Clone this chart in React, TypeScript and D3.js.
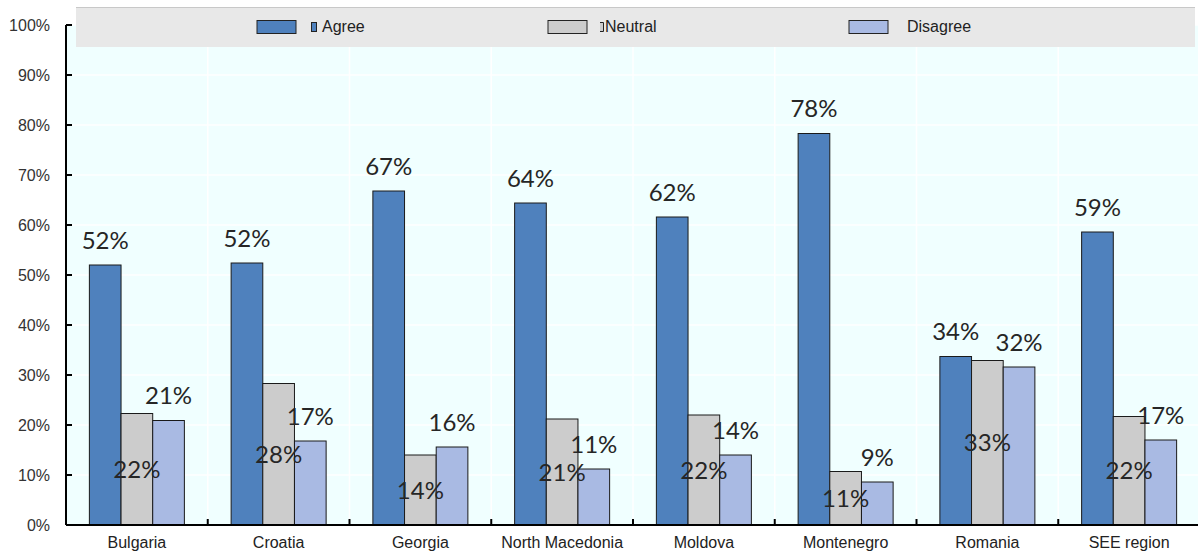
import React from "react";
import * as d3 from "d3";

const categories = ["Bulgaria", "Croatia", "Georgia", "North Macedonia", "Moldova", "Montenegro", "Romania", "SEE region"];
const seriesNames = ["Agree", "Neutral", "Disagree"];
const agree = [52.0, 52.4, 66.8, 64.4, 61.6, 78.3, 33.7, 58.6];
const neutral = [22.3, 28.3, 14.0, 21.2, 22.0, 10.7, 32.9, 21.7];
const disagree = [20.9, 16.8, 15.6, 11.2, 14.0, 8.6, 31.6, 17.0];
const yTicks = [0, 10, 20, 30, 40, 50, 60, 70, 80, 90, 100];
const colors = ["#4F81BD", "#CCCCCC", "#A9BAE3"];

const W = 1198;
const H = 557;
const left = 66;
const right = 1200;
const top = 25;
const bottom = 525;

export default function App() {
  const values = [agree, neutral, disagree];
  const x0 = d3.scaleBand<string>().domain(categories).range([left, right]).padding(0);
  const groupW = 95;
  const x1 = d3.scaleBand<string>().domain(seriesNames).range([0, groupW]).padding(0);
  const y = d3.scaleLinear().domain([0, 100]).range([bottom, top]);
  const off = (x0.step() - groupW) / 2;
  const axisFont = "'Liberation Sans', Arial, sans-serif";
  const labelFont = "Lato, 'Noto Sans', sans-serif";

  const legendItems = [
    { name: "Agree", sx: 257, tx: 322 },
    { name: "Neutral", sx: 548, tx: 605 },
    { name: "Disagree", sx: 849, tx: 907 },
  ];

  return (
    <svg width={W} height={H} style={{ position: "absolute", left: 0, top: 0, background: "#fff" }}>
      <rect x={left} y={top} width={right - left} height={bottom - top} fill="#F0FFFF" />
      {yTicks.map((t) => (
        <line key={"hg" + t} x1={left} x2={right} y1={y(t)} y2={y(t)} stroke="#fff" strokeWidth={1.5} />
      ))}
      {categories.slice(1).map((c) => (
        <line key={"vg" + c} x1={x0(c)!} x2={x0(c)!} y1={top} y2={bottom} stroke="#fff" strokeWidth={1.5} />
      ))}
      {/* legend */}
      <rect x={76} y={7} width={1119} height={40} fill="#E8E8E8" />
      <line x1={76} x2={1195} y1={7.5} y2={7.5} stroke="#C8C8C8" strokeWidth={1} />
      {legendItems.map((l, i) => (
        <g key={l.name}>
          <rect x={l.sx} y={20.5} width={39} height={13} fill={colors[i]} stroke="#222" strokeWidth={1} />
          <text x={l.tx} y={32} fontFamily={axisFont} fontSize={16} fill="#222">{l.name}</text>
        </g>
      ))}
      <rect x={311.5} y={22.5} width={5} height={9} fill={colors[0]} stroke="#222" strokeWidth={1} />
      <path d="M600,22.5 H603.5 V31.5 H600" fill={colors[1]} stroke="#222" strokeWidth={1} />
      {/* bars */}
      {categories.map((c, ci) => (
        <g key={c} transform={`translate(${x0(c)! + off},0)`}>
          {seriesNames.map((s, si) => {
            const v = values[si][ci];
            return (
              <rect key={s} x={x1(s)!} y={y(v)} width={x1.bandwidth()} height={y(0) - y(v)}
                fill={colors[si]} stroke="#1a1a1a" strokeWidth={1} />
            );
          })}
        </g>
      ))}
      {/* data labels */}
      {categories.map((c, ci) => (
        <g key={"l" + c} transform={`translate(${x0(c)! + off},0)`}>
          {seriesNames.map((s, si) => {
            const v = values[si][ci];
            const cx = x1(s)! + x1.bandwidth() / 2;
            const cy = si === 1 ? (y(v) + y(0)) / 2 : y(v) - 25;
            return (
              <text key={s} x={cx} y={cy} dy="0.36em" textAnchor="middle" fontFamily={labelFont}
                fontSize={24} fill="#262626">{Math.round(v) + "%"}</text>
            );
          })}
        </g>
      ))}
      {/* axes */}
      <line x1={left} x2={left} y1={top} y2={bottom} stroke="#000" strokeWidth={2} />
      <line x1={left} x2={right} y1={bottom} y2={bottom} stroke="#000" strokeWidth={2} />
      {yTicks.map((t) => (
        <g key={"yt" + t}>
          <line x1={left} x2={left + 6} y1={y(t)} y2={y(t)} stroke="#000" strokeWidth={2} />
          <text x={50} y={y(t)} dy="0.36em" textAnchor="end" fontFamily={axisFont} fontSize={16} fill="#333">{t + "%"}</text>
        </g>
      ))}
      {categories.slice(1).map((c) => (
        <line key={"xt" + c} x1={x0(c)!} x2={x0(c)!} y1={bottom} y2={bottom - 6} stroke="#000" strokeWidth={2} />
      ))}
      {categories.map((c) => (
        <text key={"xl" + c} x={x0(c)! + x0.step() / 2} y={548} textAnchor="middle" fontFamily={axisFont}
          fontSize={16} fill="#222">{c}</text>
      ))}
    </svg>
  );
}
